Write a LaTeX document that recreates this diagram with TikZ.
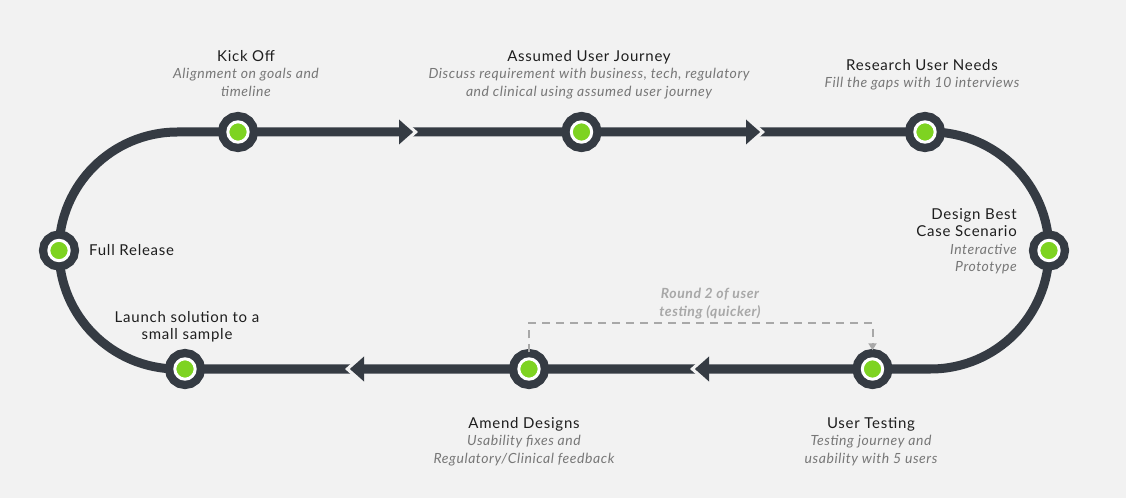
\documentclass[tikz,border=0pt]{standalone}
\usepackage{fontspec}
\setmainfont{Lato}[LetterSpace=5]
\newfontfamily\subfam{Lato}[LetterSpace=4]
\usetikzlibrary{arrows.meta}
\definecolor{bg}{HTML}{F2F2F2}
\definecolor{trk}{HTML}{353B43}
\definecolor{grn}{HTML}{7ED321}
\definecolor{ttl}{HTML}{1E1E1E}
\definecolor{subc}{HTML}{777777}
\definecolor{dsh}{HTML}{A8A8A8}
\newcommand\subf{\color{subc}\subfam\itshape\fontsize{14}{17.5}\selectfont}
\begin{document}
\begin{tikzpicture}[x=1pt,y=1pt,
  track/.style={draw=trk, line width=9pt},
  stop/.style={circle, inner sep=0pt, minimum size=20.4pt, fill=grn, draw=white, line width=3pt,
    preaction={draw=trk, fill=trk, line width=19.6pt}},
  lbl/.style={align=center, inner sep=0pt, text=ttl, font=\fontsize{15}{17.5}\selectfont},
  loopback/.style={draw=dsh, line width=2pt, dash pattern=on 8pt off 6pt, -{Triangle[length=7pt,width=8pt]}},
  arrowhd/.pic={
    \draw[bg, line width=3.3pt] (-11.5,12.5) -- (2.5,0) -- (-11.5,-12.5);
    \fill[trk] (-14,12.5) -- (0,0) -- (-14,-12.5) -- cycle;
  }
]
\fill[bg] (0,0) rectangle (1126,498);
\useasboundingbox (0,0) rectangle (1126,498);

% stop positions
\coordinate (pkick) at (238,366);
\coordinate (passumed) at (581.5,366);
\coordinate (presearch) at (925,366);
\coordinate (pdesign) at (1049,247.5);
\coordinate (ptest) at (872.5,129);
\coordinate (pamend) at (529,129);
\coordinate (plaunch) at (185,129);
\coordinate (pfull) at (59,247.5);

% track
\draw[track] (pkick) -- (presearch) -- (930.5,366)
  arc[start angle=90, end angle=-90, radius=118.5] -- (plaunch) -- (177.5,129)
  arc[start angle=270, end angle=90, radius=118.5] -- cycle;

% arrowheads
\pic at (413,366) {arrowhd};
\pic at (760,366) {arrowhd};
\pic[rotate=180] at (695,129) {arrowhd};
\pic[rotate=180] at (350,129) {arrowhd};

% stops
\node[stop] (kick) at (pkick) {};
\node[stop] (assumed) at (passumed) {};
\node[stop] (research) at (presearch) {};
\node[stop] (design) at (pdesign) {};
\node[stop] (test) at (ptest) {};
\node[stop] (amend) at (pamend) {};
\node[stop] (launch) at (plaunch) {};
\node[stop] (full) at (pfull) {};

% dashed loop back
\draw[loopback] ([yshift=5pt]amend.north) |- ([yshift=34pt]test.north) -- ([yshift=7pt]test.north);
\node[align=center, inner sep=0pt, text=dsh, font=\subfam\bfseries\itshape\fontsize{14}{17.5}\selectfont, anchor=north]
  (roundtxt) at (710,210) {Round 2 of user\\testing (quicker)};

% labels
\node[lbl, anchor=north] (kicktxt) at (246,448)
  {Kick Off\\{\subf Alignment on goals and}\\{\subf timeline}};
\node[lbl, anchor=north] (assumedtxt) at (589,448)
  {Assumed User Journey\\{\subf Discuss requirement with business, tech, regulatory}\\{\subf and clinical using assumed user journey}};
\node[lbl, anchor=north] (researchtxt) at (922,439)
  {Research User Needs\\{\subf Fill the gaps with 10 interviews}};
\node[lbl, anchor=north east, align=right] (designtxt) at (1017,290)
  {Design Best\\Case Scenario\\{\subf Interactive}\\{\subf Prototype}};
\node[lbl, anchor=west] (fulltxt) at (89,248) {Full Release};
\node[lbl, anchor=north] (launchtxt) at (187,187) {Launch solution to a\\small sample};
\node[lbl, anchor=north] (amendtxt) at (524,81)
  {Amend Designs\\{\subf Usability fixes and}\\{\subf Regulatory/Clinical feedback}};
\node[lbl, anchor=north] (testtxt) at (871,81)
  {User Testing\\{\subf Testing journey and}\\{\subf usability with 5 users}};
\end{tikzpicture}
\end{document}
